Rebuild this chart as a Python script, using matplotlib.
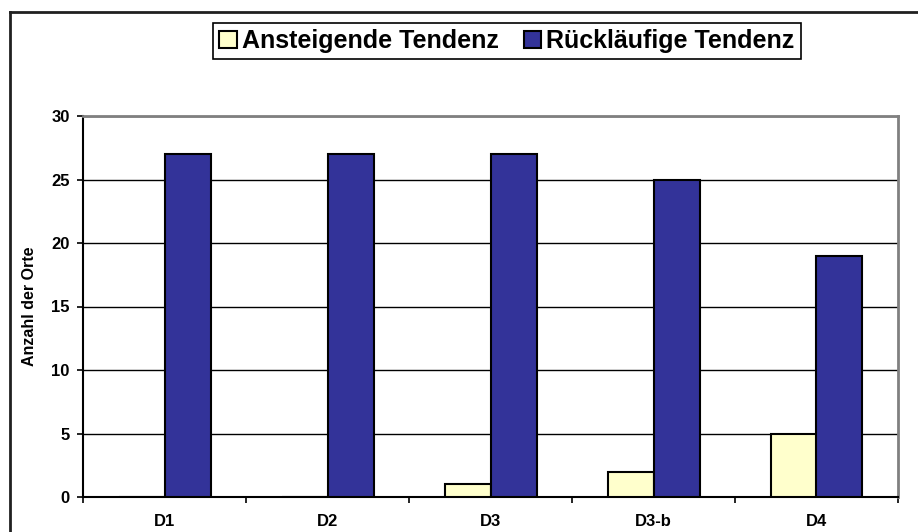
import numpy as np
import matplotlib
matplotlib.use("Agg")
import matplotlib.pyplot as plt
from matplotlib.lines import Line2D
from matplotlib.patches import Patch


categories = ["D1", "D2", "D3", "D3-b", "D4"]
ansteigend = [0, 0, 1, 2, 5]
ruecklaeufig = [27, 27, 27, 25, 19]
series_names = ["Ansteigende Tendenz", "Rückläufige Tendenz"]
y_ticks = [0, 5, 10, 15, 20, 25, 30]

col_up = "#FFFFCC"
col_down = "#333399"

plt.rcParams['font.family'] = ['Liberation Sans', 'DejaVu Sans']

fig = plt.figure(figsize=(9.18, 5.32), dpi=100)
ax = fig.add_axes([83/918, 1-497/532, 815/918, 381/532])

x = np.arange(len(categories))
w = 46/163.0
ax.bar(x - w/2, ansteigend, w, color=col_up, edgecolor="black", linewidth=1.5, zorder=3)
ax.bar(x + w/2, ruecklaeufig, w, color=col_down, edgecolor="black", linewidth=1.5, zorder=3)

ax.set_xlim(-0.5, len(categories) - 0.5)
ax.set_ylim(0, 30)
ax.set_yticks(y_ticks)
ax.set_yticklabels([str(v) for v in y_ticks], fontsize=12, fontweight="bold")
ax.set_xticks(x)
ax.set_xticklabels(categories, fontsize=12, fontweight="bold")
ax.set_xticks(np.arange(len(categories) + 1) - 0.5, minor=True)
ax.tick_params(axis="x", which="major", length=0, pad=12)
ax.tick_params(axis="x", which="minor", length=4.5, width=1.2, direction="out")
ax.tick_params(axis="y", length=4.5, width=1.2, direction="out", pad=5)
ax.yaxis.grid(True, color="black", linewidth=1, zorder=0)
ax.set_axisbelow(True)

for s in ["left", "bottom"]:
    ax.spines[s].set_color("black")
    ax.spines[s].set_linewidth(1.5)
for s in ["top", "right"]:
    ax.spines[s].set_color("#808080")
    ax.spines[s].set_linewidth(2)

ax.set_ylabel("Anzahl der Orte", fontsize=11.5, fontweight="bold", labelpad=10)

# legend
handles = [Patch(facecolor=col_up, edgecolor="black", linewidth=1.5),
           Patch(facecolor=col_down, edgecolor="black", linewidth=1.5)]
leg = fig.legend(handles, series_names, loc="center", ncol=2,
                 bbox_to_anchor=(507/918, 1-41/532),
                 prop={"size": 18, "weight": "bold"},
                 frameon=True, fancybox=False, framealpha=1,
                 handlelength=0.7, handleheight=0.7, handletextpad=0.2,
                 columnspacing=1.0, borderpad=0.25, borderaxespad=0)
leg.get_frame().set_edgecolor("black")
leg.get_frame().set_linewidth(1.2)

# chart border (cropped at right and bottom)
fig.add_artist(Line2D([10/918, 1], [1-12/532, 1-12/532], color="#202020", linewidth=2,
                      transform=fig.transFigure))
fig.add_artist(Line2D([10/918, 10/918], [0, 1-12/532], color="#202020", linewidth=2,
                      transform=fig.transFigure))

fig.savefig("out.png", dpi=100)
